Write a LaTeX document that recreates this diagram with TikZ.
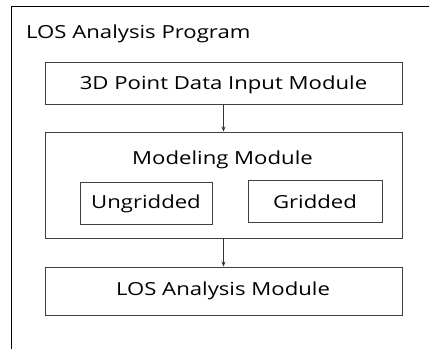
\documentclass[tikz,border=0pt]{standalone}
\usepackage{fontspec}
\setmainfont[FakeStretch=1.23]{Open Sans}
\usetikzlibrary{arrows.meta}
\begin{document}
\begin{tikzpicture}[x=1pt,y=-1pt,
  box/.style={draw=black!75,line width=0.9pt,inner sep=0pt},
  lbl/.style={font=\fontsize{18}{21}\selectfont,inner sep=0pt,anchor=center},
  conn/.style={draw=black!80,line width=0.8pt,-{Stealth[length=5pt,width=4pt]}}]
\useasboundingbox[fill=white] (0,0) rectangle (429,349);
% outer program frame (cropped)
\coordinate (ftl) at (11,6);
\coordinate (ftr) at (429,6);
\coordinate (fbl) at (11,349);
\draw[black,line width=0.9pt] (ftr) -- (ftl) -- (fbl);
\node[lbl,anchor=base west] (title) at (26,38) {LOS Analysis Program};
% boxes
\node[box,minimum width=357pt,minimum height=42pt] (input) at (223.5,83) {};
\node[lbl] (inputt) at (223.5,85) {3D Point Data Input Module};
\node[box,minimum width=357pt,minimum height=106pt] (model) at (223.5,185) {};
\node[lbl] (modelt) at (222.5,160) {Modeling Module};
\node[box,minimum width=132pt,minimum height=42pt] (ungrid) at (146,203) {};
\node[lbl] (ungridt) at (146,204) {Ungridded};
\node[box,minimum width=134pt,minimum height=42pt] (grid) at (315,201) {};
\node[lbl] (gridt) at (315,202) {Gridded};
\node[box,minimum width=357pt,minimum height=48pt] (los) at (223.5,291) {};
\node[lbl] (lost) at (223,291) {LOS Analysis Module};
\draw[conn] (input.south) -- (model.north);
\draw[conn] (model.south) -- (los.north);
\end{tikzpicture}
\end{document}
